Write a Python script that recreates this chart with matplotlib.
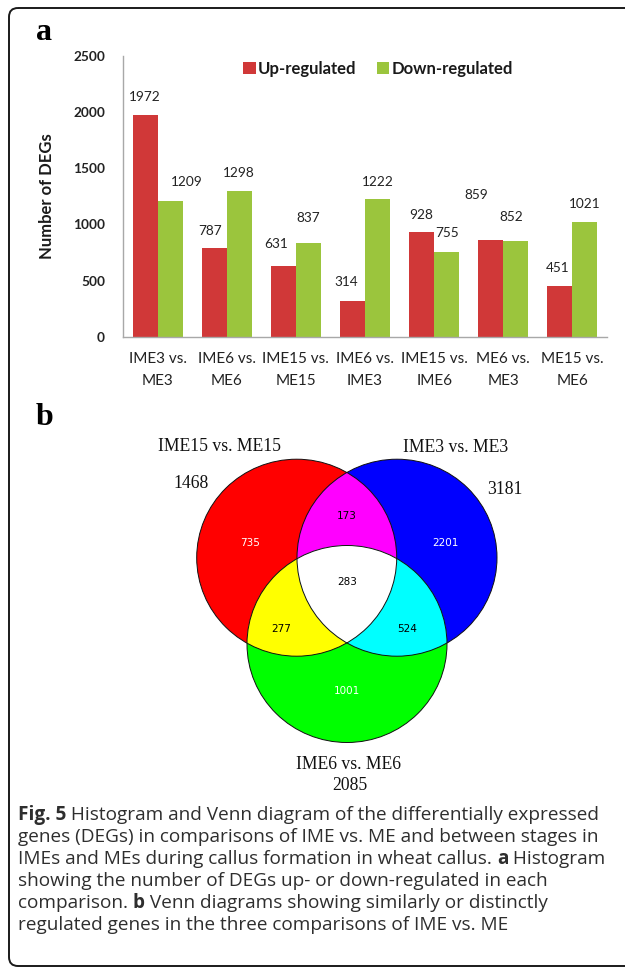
import numpy as np
import matplotlib
matplotlib.use("Agg")
import matplotlib.pyplot as plt
from matplotlib.patches import Ellipse, FancyBboxPatch, Polygon

# ---------------- data ----------------
categories = ["IME3 vs.\nME3", "IME6 vs.\nME6", "IME15 vs.\nME15", "IME6 vs.\nIME3",
              "IME15 vs.\nIME6", "ME6 vs.\nME3", "ME15 vs.\nME6"]
up_regulated = [1972, 787, 631, 314, 928, 859, 451]
down_regulated = [1209, 1298, 837, 1222, 755, 852, 1021]
y_ticks = [0, 500, 1000, 1500, 2000, 2500]
series_names = ["Up-regulated", "Down-regulated"]

venn_sets = ["IME15 vs. ME15", "IME3 vs. ME3", "IME6 vs. ME6"]
venn_totals = [1468, 3181, 2085]
venn_only = [735, 2201, 1001]        # set1 only, set2 only, set3 only
venn_pairs = [173, 277, 524]         # 1&2, 1&3, 2&3
venn_all = 283

# ---------------- style / layout ----------------
W, H = 625, 968
RED = "#d03838"
GREEN = "#9bc53d"
SANS = "Lato"
SERIF = "Liberation Serif"
# value label offsets in pixels (dx, dy above bar top)
up_off = [(0, 18), (-4, 17.5), (-7, 22), (-6, 19), (0, 17), (-15, 45), (-2.5, 18)]
dn_off = [(17, 19), (0, 17.5), (0, 25), (0, 17), (0, 18.5), (-5, 24), (0, 18)]

fig = plt.figure(figsize=(W / 100, H / 100), dpi=100)
bg = fig.add_axes([0, 0, 1, 1])
bg.set_xlim(0, W)
bg.set_ylim(H, 0)
bg.axis("off")

# border
bg.add_patch(FancyBboxPatch((9, 8), 660, 958, boxstyle="round,pad=0,rounding_size=9",
                            fill=False, lw=1.4, ec="#1a1a1a"))
bg.text(36, 40, "a", fontsize=23, fontweight="bold", family=SERIF, ha="left", va="baseline")
bg.text(36, 425, "b", fontsize=23, fontweight="bold", family=SERIF, ha="left", va="baseline")

# ---------------- bar chart ----------------
ax = fig.add_axes([123 / W, 1 - 336.7 / H, (607 - 123) / W, (336.7 - 55.7) / H])
x = np.arange(len(categories))
bw = 0.362
ax.bar(x - bw / 2, up_regulated, bw, color=RED, label=series_names[0], zorder=2)
ax.bar(x + bw / 2, down_regulated, bw, color=GREEN, label=series_names[1], zorder=2)
ax.set_xlim(-0.5, len(categories) - 0.5)
ax.set_ylim(0, 2500)
ax.set_yticks(y_ticks)
ax.set_yticklabels([str(t) for t in y_ticks], fontfamily=SANS, fontweight="bold", fontsize=9.8,
                   color="#222222")
ax.set_xticks(x)
ax.set_xticklabels(categories, fontfamily=SANS, fontsize=11, linespacing=1.75, color="#222222")
ax.tick_params(axis="both", length=0)
ax.tick_params(axis="y", pad=13)
ax.tick_params(axis="x", pad=11)
for s in ["top", "right"]:
    ax.spines[s].set_visible(False)
for s in ["left", "bottom"]:
    ax.spines[s].set_color("#a8a8a8")
    ax.spines[s].set_linewidth(1.0)
ax.set_ylabel("Number of DEGs", fontfamily=SANS, fontweight="bold", fontsize=12, labelpad=13,
              color="#1a1a1a")

for i, v in enumerate(up_regulated):
    ax.annotate(str(v), (x[i] - bw / 2, v), xytext=(up_off[i][0] * 0.72, up_off[i][1] * 0.72),
                textcoords="offset points", ha="center", va="center",
                fontfamily=SANS, fontsize=9.8, color="#222222")
for i, v in enumerate(down_regulated):
    ax.annotate(str(v), (x[i] + bw / 2, v), xytext=(dn_off[i][0] * 0.72, dn_off[i][1] * 0.72),
                textcoords="offset points", ha="center", va="center",
                fontfamily=SANS, fontsize=9.8, color="#222222")

leg = ax.legend(loc="center", bbox_to_anchor=(378 / W, 1 - 69 / H), bbox_transform=fig.transFigure,
                ncol=2, frameon=False, handlelength=0.75, handleheight=0.75, handletextpad=0.15,
                columnspacing=1.2, prop={"family": SANS, "weight": "bold", "size": 12})
for t in leg.get_texts():
    t.set_color("#1a1a1a")

# ---------------- Venn diagram ----------------
centers = [(296.7, 557.7), (397.0, 557.7), (347.0, 644.0)]
rx, ry = 100.0, 98.5
fills = ["#ff0000", "#0000ff", "#00ff00"]
ells = []
for c, f in zip(centers, fills):
    e = Ellipse(c, 2 * rx, 2 * ry, fc=f, ec="none", zorder=2)
    bg.add_patch(e)
    ells.append(e)

def ell_poly(c, n=720):
    t = np.linspace(0, 2 * np.pi, n, endpoint=False)
    return np.column_stack([c[0] + rx * np.cos(t), c[1] + ry * np.sin(t)])

pair_spec = [(1, 0, "#ff00ff"), (2, 0, "#ffff00"), (2, 1, "#00ffff")]
for a, b, col in pair_spec:
    p = Polygon(ell_poly(centers[a]), closed=True, fc=col, ec="none", zorder=3)
    bg.add_patch(p)
    p.set_clip_path(ells[b])

# triple intersection polygon
pts = []
for i, c in enumerate(centers):
    P = ell_poly(c, 3600)
    m = np.ones(len(P), bool)
    for j in range(3):
        if j != i:
            d = ((P[:, 0] - centers[j][0]) / rx) ** 2 + ((P[:, 1] - centers[j][1]) / ry) ** 2
            m &= d <= 1.0
    pts.append(P[m])
pts = np.vstack(pts)
cen = pts.mean(axis=0)
order = np.argsort(np.arctan2(pts[:, 1] - cen[1], pts[:, 0] - cen[0]))
bg.add_patch(Polygon(pts[order], closed=True, fc="white", ec="none", zorder=4))

for c in centers:
    bg.add_patch(Ellipse(c, 2 * rx, 2 * ry, fc="none", ec="#111111", lw=0.7, zorder=5))

# set names and totals
name_pos = [(219.3, 451), (456, 452.5), (348.3, 769)]
total_pos = [(190.7, 488), (505, 493.5), (350, 790)]
for nm, tot, (nx, ny), (tx, ty) in zip(venn_sets, venn_totals, name_pos, total_pos):
    bg.text(nx, ny, nm, family=SERIF, fontsize=12.7, ha="center", va="baseline", color="#111111")
    bg.text(tx, ty, str(tot), family=SERIF, fontsize=12.7, ha="center", va="baseline", color="#111111")

region_vals = venn_only + venn_pairs + [venn_all]
region_pos = [(250, 542.7), (445, 542.7), (346.7, 690.7),
              (346.7, 516), (280.7, 628.7), (407.3, 628.7), (346.7, 582.3)]
region_col = ["white", "white", "white", "black", "black", "black", "black"]
for v, (px, py), col in zip(region_vals, region_pos, region_col):
    bg.text(px, py, str(v), family="DejaVu Sans", fontsize=7.5, ha="center", va="center",
            color=col, zorder=6)

# ---------------- caption ----------------
caption_lines = [
    [("Fig. 5", True), (" Histogram and Venn diagram of the differentially expressed", False)],
    [("genes (DEGs) in comparisons of IME vs. ME and between stages in", False)],
    [("IMEs and MEs during callus formation in wheat callus. ", False), ("a", True),
     (" Histogram", False)],
    [("showing the number of DEGs up- or down-regulated in each", False)],
    [("comparison. ", False), ("b", True), (" Venn diagrams showing similarly or distinctly", False)],
    [("regulated genes in the three comparisons of IME vs. ME", False)],
]
renderer = fig.canvas.get_renderer()

def text_width(s, bold):
    # width including spaces: measure with guard glyphs
    kw = dict(family="Open Sans", fontsize=13.7, fontweight="bold" if bold else "normal")
    t1 = bg.text(0, 0, "|" + s + "|", **kw)
    t2 = bg.text(0, 0, "||", **kw)
    w = t1.get_window_extent(renderer).width - t2.get_window_extent(renderer).width
    t1.remove()
    t2.remove()
    return w

for k, pieces in enumerate(caption_lines):
    xpos = 18.0
    for s, bold in pieces:
        bg.text(xpos, 820 + 22 * k, s, family="Open Sans", fontsize=13.7,
                fontweight="bold" if bold else "normal", ha="left",
                va="baseline", color="#2e2e2e")
        xpos += text_width(s, bold)

fig.savefig("out.png", dpi=100)
